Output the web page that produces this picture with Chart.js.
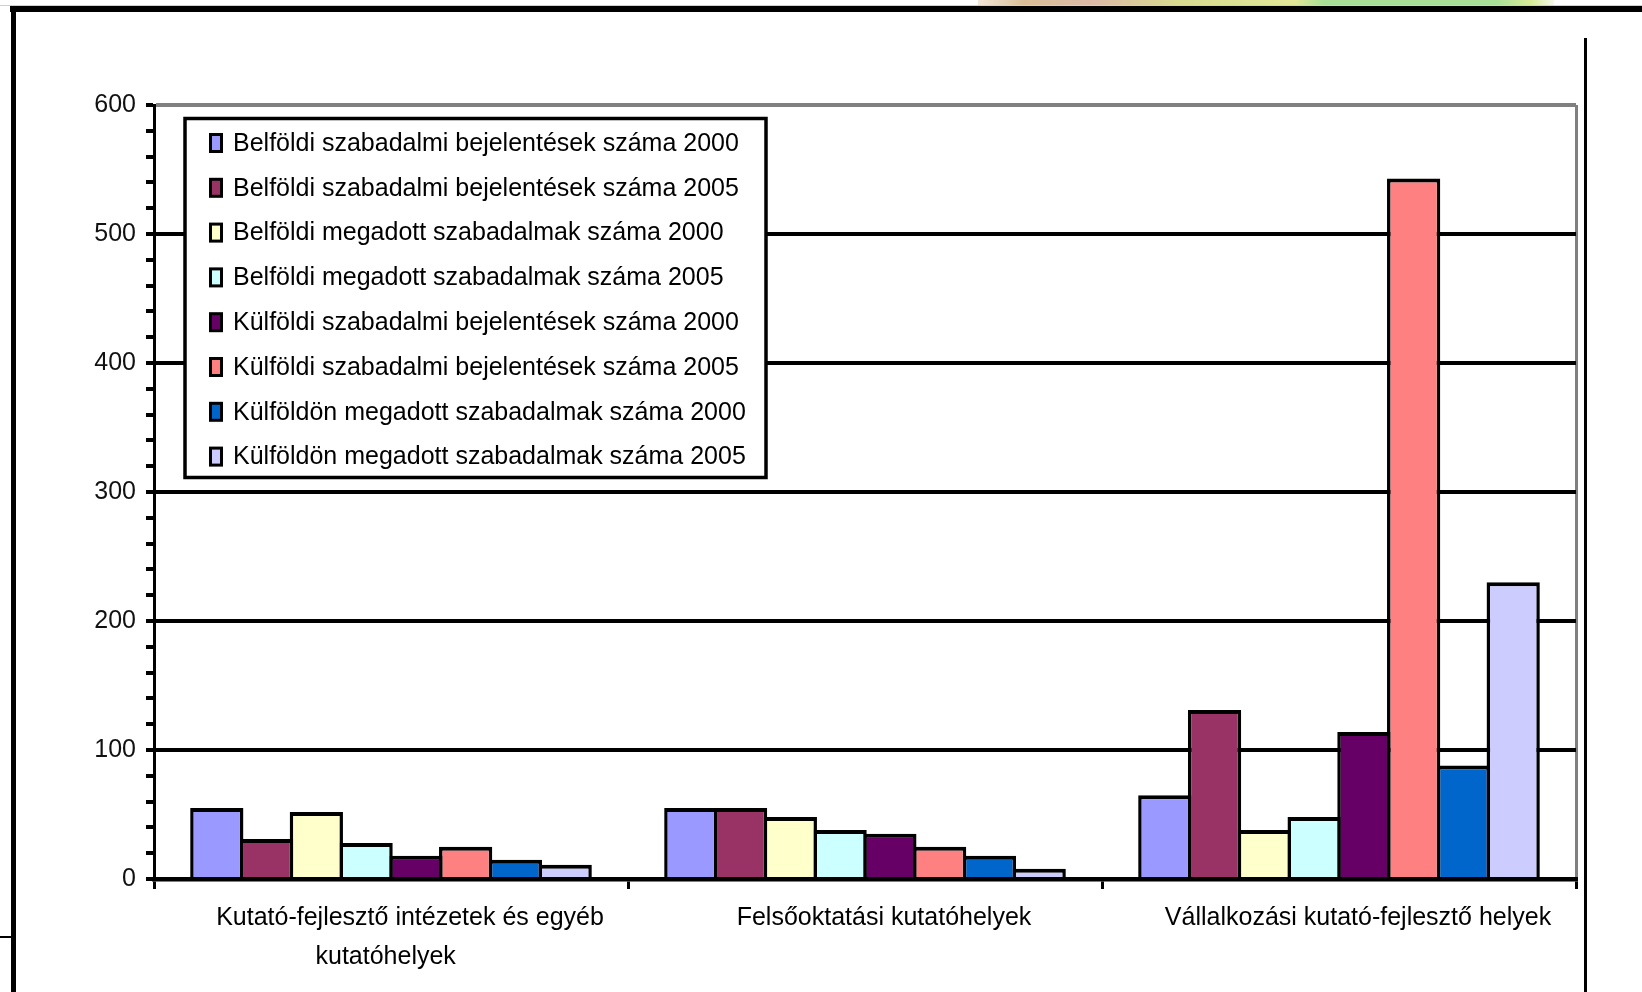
<!DOCTYPE html>
<html>
<head>
<meta charset="utf-8">
<script src="https://cdn.jsdelivr.net/npm/chart.js@4.4.1/dist/chart.umd.min.js"></script>
<style>
  html, body { margin: 0; padding: 0; background: #ffffff; }
  #wrap { width: 1642px; height: 992px; position: relative; }
  canvas { display: block; }
</style>
</head>
<body>
<div id="wrap"><canvas id="c" width="1642" height="992"></canvas></div>
<script>
// Research unit types (x axis)
const categories = [
  ['Kutató-fejlesztő intézetek és egyéb', 'kutatóhelyek       '],
  'Felsőoktatási kutatóhelyek',
  'Vállalkozási kutató-fejlesztő helyek'
];

// Series names and fills
const seriesNames = [
  'Belföldi szabadalmi bejelentések száma 2000',
  'Belföldi szabadalmi bejelentések száma 2005',
  'Belföldi megadott szabadalmak száma 2000',
  'Belföldi megadott szabadalmak száma 2005',
  'Külföldi szabadalmi bejelentések száma 2000',
  'Külföldi szabadalmi bejelentések száma 2005',
  'Külföldön megadott szabadalmak száma 2000',
  'Külföldön megadott szabadalmak száma 2005'
];
const seriesColors = ['#9999FF', '#993366', '#FFFFCC', '#CCFFFF', '#660066', '#FF8080', '#0066CC', '#CCCCFF'];

// Values per series, one per research unit type
const belfoldiBejelentes2000 = [55, 55, 65];
const belfoldiBejelentes2005 = [31, 55, 131];
const belfoldiMegadott2000   = [52, 48, 38];
const belfoldiMegadott2005   = [28, 38, 48];
const kulfoldiBejelentes2000 = [18, 35, 114];
const kulfoldiBejelentes2005 = [25, 25, 543];
const kulfoldonMegadott2000  = [15, 18, 88];
const kulfoldonMegadott2005  = [11, 8, 230];

// Labelled y ticks
const yTickLabels = [0, 100, 200, 300, 400, 500, 600];

const seriesValues = [
  belfoldiBejelentes2000, belfoldiBejelentes2005,
  belfoldiMegadott2000, belfoldiMegadott2005,
  kulfoldiBejelentes2000, kulfoldiBejelentes2005,
  kulfoldonMegadott2000, kulfoldonMegadott2005
];

const FONT = '"Liberation Sans", Arial, sans-serif';

// Boxed legend inside the plot area, top left
const boxedLegend = {
  id: 'boxedLegend',
  afterDraw(chart) {
    const ctx = chart.ctx;
    ctx.save();
    ctx.fillStyle = '#ffffff';
    ctx.fillRect(185, 118.5, 581, 359);
    ctx.lineWidth = 3.5;
    ctx.strokeStyle = '#000000';
    ctx.strokeRect(185, 118.5, 581, 359);
    ctx.font = '25px ' + FONT;
    ctx.textBaseline = 'middle';
    ctx.textAlign = 'left';
    chart.data.datasets.forEach((ds, i) => {
      const cy = 143 + i * 44.8;
      ctx.fillStyle = '#000000';
      ctx.fillRect(209, cy - 10, 14, 20);
      ctx.fillStyle = ds.backgroundColor;
      ctx.fillRect(212, cy - 7, 8, 14);
      ctx.fillStyle = '#000000';
      ctx.fillText(ds.label, 233, cy + 1);
    });
    ctx.restore();
  }
};

// Page frame around the chart
const pageFrame = {
  id: 'pageFrame',
  beforeDraw(chart) {
    const ctx = chart.ctx;
    ctx.save();
    ctx.fillStyle = '#ffffff';
    ctx.fillRect(0, 0, chart.width, chart.height);
    // strip of a picture above the frame
    const g = ctx.createLinearGradient(978, 0, 1554, 0);
    g.addColorStop(0, '#f2e6d8');
    g.addColorStop(0.08, '#d9bf98');
    g.addColorStop(0.2, '#dcb9a8');
    g.addColorStop(0.35, '#d8dc90');
    g.addColorStop(0.55, '#e0e898');
    g.addColorStop(0.6, '#a8e098');
    g.addColorStop(0.9, '#a8e098');
    g.addColorStop(0.96, '#d8ec98');
    g.addColorStop(1, '#f4f8ee');
    ctx.fillStyle = g;
    ctx.fillRect(978, 0, 576, 5);
    ctx.fillStyle = '#cfcfcf';
    ctx.fillRect(0, 5, chart.width, 1);
    ctx.fillStyle = '#000000';
    ctx.fillRect(10, 6, chart.width - 10, 6);
    ctx.fillRect(11, 6, 5, chart.height - 6);
    ctx.fillRect(1584, 38, 3, chart.height - 38);
    ctx.fillRect(0, 936, 11, 2);
    ctx.restore();
  }
};

new Chart(document.getElementById('c'), {
  type: 'bar',
  data: {
    labels: categories,
    datasets: seriesNames.map((name, i) => ({
      label: name,
      data: seriesValues[i],
      backgroundColor: seriesColors[i],
      borderColor: '#000000',
      borderWidth: { top: 4, left: 3.5, right: 3.5, bottom: 0 },
      borderSkipped: 'start',
      categoryPercentage: 0.84,
      barPercentage: 1.07
    }))
  },
  options: {
    responsive: false,
    animation: false,
    devicePixelRatio: 1,
    layout: { padding: { left: 0, top: 105, right: 66, bottom: 0 } },
    plugins: {
      legend: { display: false },
      tooltip: { enabled: false }
    },
    scales: {
      x: {
        offset: true,
        grid: {
          offset: true,
          drawOnChartArea: true,
          color: c => (c.tick === undefined ? '#808080' : 'rgba(0,0,0,0)'),
          lineWidth: 3,
          tickColor: '#000000',
          tickWidth: 3,
          tickLength: 10
        },
        border: { color: '#000000', width: 4.5 },
        ticks: {
          color: '#000000',
          font: { family: FONT, size: 25, lineHeight: 1.58 },
          padding: 9,
          labelOffset: 19,
          maxRotation: 0,
          autoSkip: false
        },
        afterFit: s => { s.height = 113; }
      },
      y: {
        min: 0,
        max: 600,
        grid: {
          color: c => {
            const v = c.tick ? c.tick.value : -1;
            if (v === 600) return '#808080';
            return yTickLabels.includes(v) ? '#000000' : 'rgba(0,0,0,0)';
          },
          lineWidth: 4,
          tickColor: '#000000',
          tickWidth: 4,
          tickLength: 8
        },
        border: { color: '#000000', width: 3 },
        ticks: {
          stepSize: 20,
          autoSkip: false,
          color: '#111111',
          padding: 10,
          font: { family: FONT, size: 25 },
          callback: v => (yTickLabels.includes(v) ? String(v) : '')
        },
        afterFit: s => { s.width = 154; }
      }
    }
  },
  plugins: [pageFrame, boxedLegend]
});
</script>
</body>
</html>
